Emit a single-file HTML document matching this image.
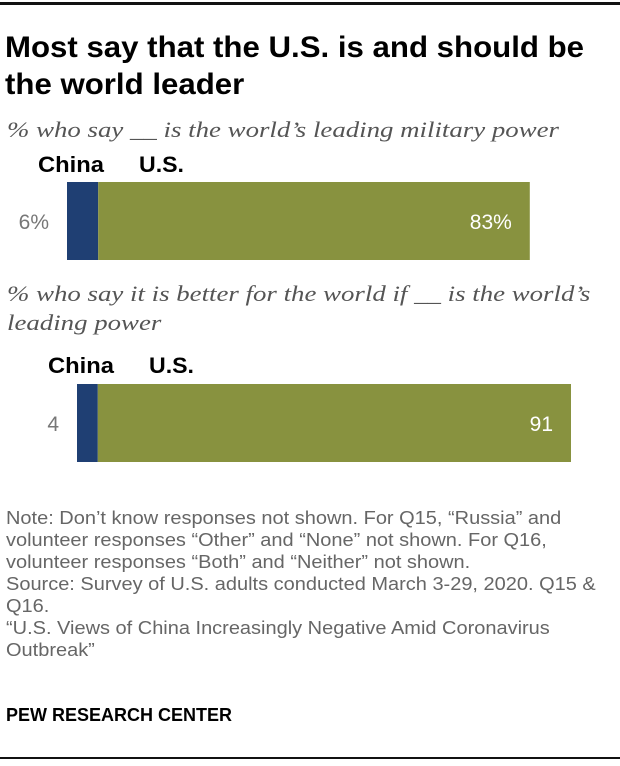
<!DOCTYPE html>
<html><head><meta charset="utf-8"><style>
body{margin:0;width:620px;height:766px;background:#fff;position:relative;overflow:hidden;font-family:"Liberation Sans",sans-serif}
.abs{position:absolute;white-space:nowrap}
.tl{left:5px;font-weight:bold;font-size:30px;color:#000;transform:scaleX(1.04);transform-origin:0 0;line-height:36px}
.sub{font-family:"Liberation Serif",serif;font-style:italic;font-size:22px;color:#555;left:7px;transform:scaleX(1.22);transform-origin:0 0;line-height:27px}
.note{left:6px;font-size:18px;line-height:22px;color:#666;transform:scaleX(1.11);transform-origin:0 0}
</style></head><body>
<div class="abs" style="left:0;top:2px;width:620px;height:3px;background:#111"></div>
<div class="abs tl" style="top:30px">Most say that the U.S. is and should be</div>
<div class="abs tl" style="top:67px">the world leader</div>
<div class="abs sub" style="top:116px">% who say __ is the world’s leading military power</div>
<div class="abs sub" style="top:280px">% who say it is better for the world if __ is the world’s</div>
<div class="abs sub" style="top:309px">leading power</div>
<svg class="abs" style="left:0;top:0" width="620" height="766" id="chart"></svg>
<div class="abs note" style="top:507px">Note: Don’t know responses not shown. For Q15, “Russia” and<br>volunteer responses “Other” and “None” not shown. For Q16,<br>volunteer responses “Both” and “Neither” not shown.<br>Source: Survey of U.S. adults conducted March 3-29, 2020. Q15 &amp;<br>Q16.<br>“U.S. Views of China Increasingly Negative Amid Coronavirus<br>Outbreak”</div>
<div class="abs" style="left:6px;top:705px;font-weight:bold;font-size:18px;color:#000">PEW RESEARCH CENTER</div>
<div class="abs" style="left:0;top:757px;width:620px;height:2px;background:#111"></div>
<script>
const questions=["military","better"];
const chinaVals=[6,4];
const usVals=[83,91];
const chinaLabels=["6%","4"];
const usLabels=["83%","91"];
const svg=document.getElementById('chart');
const NS="http://www.w3.org/2000/svg";
const scale=5.2;
const x0s=[67,77], ys=[182,384], bh=78, labY=[172,373];
const chinaLabX=[38,48], usLabX=[139,149];
function xv(v){return v*scale;}
function mk(t,a){const e=document.createElementNS(NS,t);for(const k in a)e.setAttribute(k,a[k]);svg.appendChild(e);return e;}
questions.forEach((q,i)=>{
  const x0=x0s[i],y=ys[i];
  const wc=xv(chinaVals[i]),wu=xv(usVals[i]);
  const c=mk('rect',{x:x0,y:y,width:wc,height:bh,fill:'#1f3f73'});
  
  
  const u=mk('rect',{x:x0+wc,y:y,width:wu,height:bh,fill:'#88923f'});
  
  
  const t1=mk('text',{x:x0-18,y:y+bh/2+8,'text-anchor':'end','font-size':'21','fill':'#777','font-family':'Liberation Sans, sans-serif'});
  t1.textContent=chinaLabels[i];
  
  
  const t2=mk('text',{x:x0+wc+wu-18,y:y+bh/2+8,'text-anchor':'end','font-size':'21','fill':'#fff','font-family':'Liberation Sans, sans-serif'});
  t2.textContent=usLabels[i];
  
  
  const l1=mk('text',{x:chinaLabX[i],y:labY[i],'font-size':'22','font-weight':'bold','font-family':'Liberation Sans, sans-serif',textLength:'66',lengthAdjust:'spacingAndGlyphs'});
  l1.textContent='China';
  
  
  const l2=mk('text',{x:usLabX[i],y:labY[i],'font-size':'22','font-weight':'bold','font-family':'Liberation Sans, sans-serif',textLength:'45',lengthAdjust:'spacingAndGlyphs'});
  l2.textContent='U.S.';
  
  
});
</script>
</body></html>
